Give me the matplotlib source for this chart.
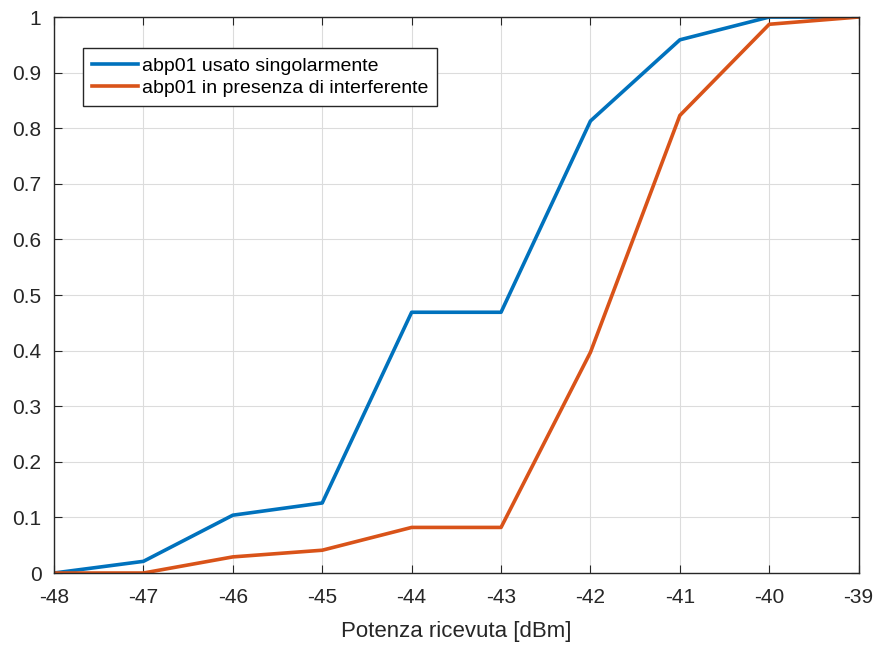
import matplotlib
matplotlib.use("Agg")
import matplotlib.pyplot as plt

plt.rcParams['font.family'] = ['Liberation Sans', 'DejaVu Sans']
plt.rcParams['axes.unicode_minus'] = False

potenza = [-48, -47, -46, -45, -44, -43, -42, -41, -40, -39]
singolo = [0.0, 0.021, 0.104, 0.126, 0.469, 0.469, 0.813, 0.959, 1.0, 1.0]
interf = [0.0, 0.0, 0.029, 0.041, 0.082, 0.082, 0.397, 0.823, 0.987, 1.0]

fig = plt.figure(figsize=(8.78, 6.45), dpi=100)
ax = fig.add_axes([0.0615, 0.1116, 0.9165, 0.862])

ax.plot(potenza, singolo, color="#0072BD", lw=2.6, label="abp01 usato singolarmente")
ax.plot(potenza, interf, color="#D95319", lw=2.6, label="abp01 in presenza di interferente")

ax.set_xlim(-48, -39)
ax.set_ylim(0, 1)
ax.set_xticks(range(-48, -38))
ax.set_yticks([i / 10 for i in range(11)])
ax.set_yticklabels(["0", "0.1", "0.2", "0.3", "0.4", "0.5", "0.6", "0.7", "0.8", "0.9", "1"])
ax.grid(True, color="#dcdcdc", lw=0.8)
ax.tick_params(direction="in", top=True, right=True, labelsize=15, length=6, colors="#262626")
ax.tick_params(axis="x", pad=11)
ax.tick_params(axis="y", pad=9)
for s in ax.spines.values():
    s.set_color("#262626")
    s.set_linewidth(1.0)
ax.set_xlabel("Potenza ricevuta [dBm]", fontsize=16, color="#262626", labelpad=10)

leg = ax.legend(loc="upper left", bbox_to_anchor=(0.036, 0.944), fontsize=14,
                fancybox=False, framealpha=1, edgecolor="#262626",
                handlelength=2.4, handletextpad=0.2, borderpad=0.45, labelspacing=0.25,
                borderaxespad=0)
leg.get_frame().set_linewidth(1.0)

fig.savefig("out.png", dpi=100)
